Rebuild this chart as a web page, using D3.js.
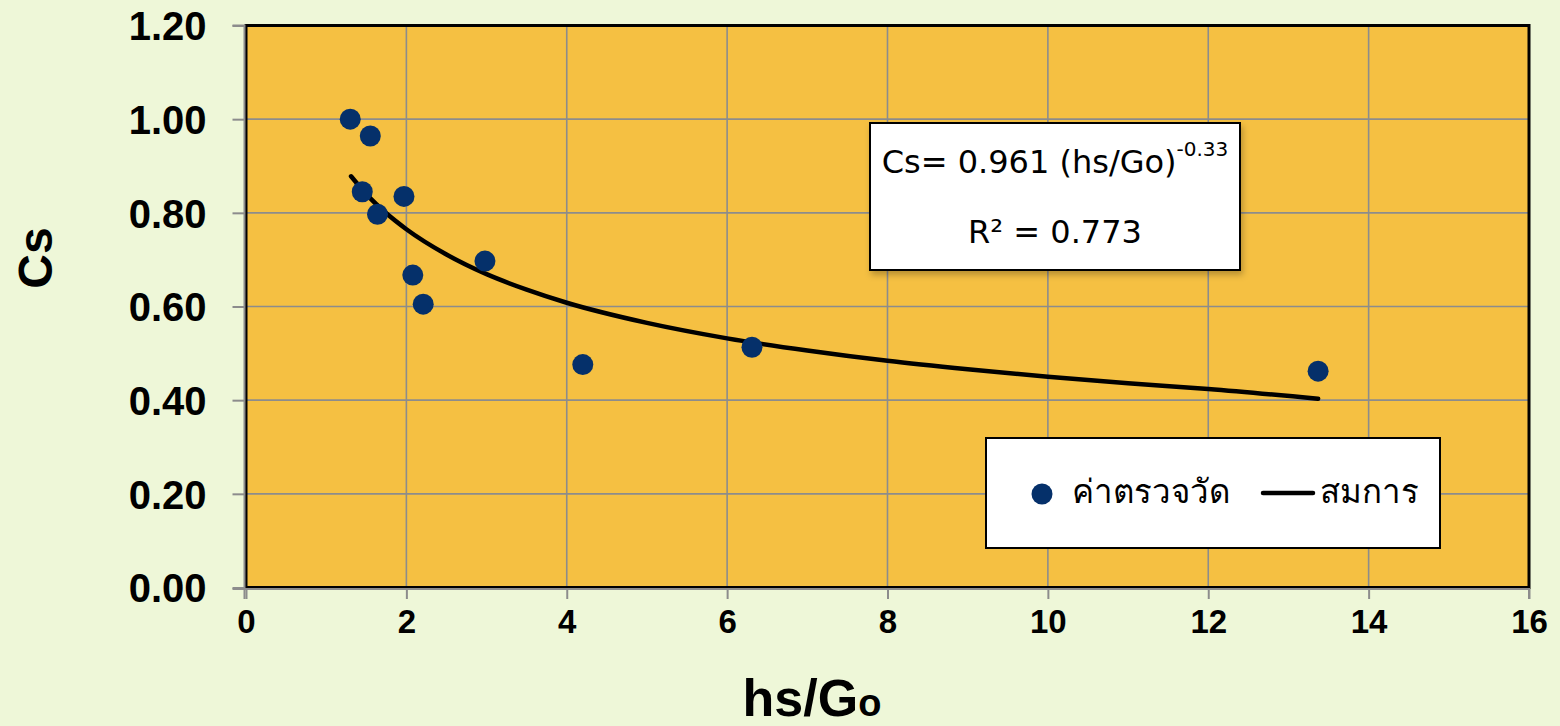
<!DOCTYPE html>
<html>
<head>
<meta charset="utf-8">
<script src="https://cdn.jsdelivr.net/npm/d3@7"></script>
<style>
  html, body { margin: 0; padding: 0; background: #EEF7D8; }
  svg { display: block; }
</style>
</head>
<body>
<svg id="chart" width="1560" height="726"></svg>
<script>
// Measured points (ค่าตรวจวัด)
const measuredX = [1.30, 1.55, 1.45, 1.64, 1.97, 2.08, 2.21, 2.98, 4.20, 6.31, 13.37];
const measuredY = [1.000, 0.964, 0.845, 0.797, 0.835, 0.667, 0.605, 0.697, 0.476, 0.513, 0.462];

// Fitted curve (สมการ)
const curveX = [1.31, 1.5, 1.75, 2.0, 2.5, 3.0, 3.5, 4.0, 5.0, 6.0, 7.0, 8.0, 9.0, 10.0, 11.0, 12.0, 13.37];
const curveY = [0.878, 0.840, 0.799, 0.765, 0.711, 0.669, 0.636, 0.608, 0.565, 0.532, 0.506, 0.484, 0.466, 0.450, 0.436, 0.424, 0.403];

const xTicks = [0, 2, 4, 6, 8, 10, 12, 14, 16];
const yTicks = [0, 0.2, 0.4, 0.6, 0.8, 1.0, 1.2];

const equationText = "Cs= 0.961 (hs/Go)";
const equationExp = "-0.33";
const r2Text = "R² = 0.773";
const legendLabels = ["ค่าตรวจวัด", "สมการ"];

const svg = d3.select("#chart");
const W = 1560, H = 726;
const pLeft = 246, pRight = 1529, pTop = 25.5, pBottom = 587.5;

const x = d3.scaleLinear().domain([0, 16]).range([pLeft, pRight]);
const y = d3.scaleLinear().domain([0, 1.2]).range([pBottom, pTop]);

svg.append("rect").attr("width", W).attr("height", H).attr("fill", "#EEF7D8");

const defs = svg.append("defs");
const f = defs.append("filter").attr("id", "shadow").attr("x", "-10%").attr("y", "-10%").attr("width", "130%").attr("height", "140%");
f.append("feDropShadow").attr("dx", 2).attr("dy", 4).attr("stdDeviation", 3).attr("flood-color", "#000").attr("flood-opacity", 0.25);

// plot area
svg.append("rect")
  .attr("x", pLeft).attr("y", pTop)
  .attr("width", pRight - pLeft).attr("height", pBottom - pTop)
  .attr("fill", "#F5C042");

// grid
const grid = svg.append("g").attr("stroke", "#8C8C8C").attr("stroke-width", 1.6);
xTicks.slice(1, -1).forEach(t => {
  grid.append("line").attr("x1", x(t)).attr("x2", x(t)).attr("y1", pTop).attr("y2", pBottom);
});
yTicks.slice(1, -1).forEach(t => {
  grid.append("line").attr("x1", pLeft).attr("x2", pRight).attr("y1", y(t)).attr("y2", y(t));
});

// plot border
svg.append("rect")
  .attr("x", pLeft).attr("y", pTop)
  .attr("width", pRight - pLeft).attr("height", pBottom - pTop)
  .attr("fill", "none").attr("stroke", "#000").attr("stroke-width", 3);

// axes
const yAxis = d3.axisLeft(y).tickValues(yTicks).tickSize(12).tickFormat(d3.format(".2f"));
const gy = svg.append("g").attr("transform", `translate(${pLeft - 1.5},0)`).call(yAxis);
gy.select(".domain").attr("stroke", "#8C8C8C").attr("stroke-width", 2).attr("d", `M-12,${pTop}H0V${pBottom + 1.5}H-12`);
gy.selectAll(".tick line").attr("stroke", "#8C8C8C").attr("stroke-width", 2);
gy.selectAll(".tick text")
  .attr("x", -38).attr("dy", "0.36em")
  .attr("font-family", "'Liberation Sans', Arial, sans-serif")
  .attr("font-weight", "bold").attr("font-size", 40).attr("fill", "#000");

const xAxis = d3.axisBottom(x).tickValues(xTicks).tickSize(10).tickFormat(d3.format("d"));
const gx = svg.append("g").attr("transform", `translate(0,${pBottom + 1.5})`).call(xAxis);
gx.select(".domain").attr("stroke", "#8C8C8C").attr("stroke-width", 2).attr("d", `M${pLeft - 1.5},10V0H${pRight}V10`);
gx.selectAll(".tick line").attr("stroke", "#8C8C8C").attr("stroke-width", 2);
gx.selectAll(".tick text")
  .attr("y", 32).attr("dy", "0.36em")
  .attr("font-family", "'Liberation Sans', Arial, sans-serif")
  .attr("font-weight", "bold").attr("font-size", 33).attr("fill", "#000");

// axis titles
svg.append("text")
  .attr("transform", `translate(52,258) rotate(-90)`)
  .attr("text-anchor", "middle")
  .attr("font-family", "'Liberation Sans', Arial, sans-serif")
  .attr("font-weight", "bold").attr("font-size", 48).attr("fill", "#000")
  .text("Cs");

const xt = svg.append("text")
  .attr("x", 812).attr("y", 716)
  .attr("text-anchor", "middle")
  .attr("font-family", "'Liberation Sans', Arial, sans-serif")
  .attr("font-weight", "bold").attr("font-size", 52).attr("fill", "#000");
xt.append("tspan").text("hs/G");
xt.append("tspan").attr("font-size", 38).text("o");

// fitted curve
const line = d3.line().x((d, i) => x(curveX[i])).y((d, i) => y(curveY[i])).curve(d3.curveMonotoneX);
svg.append("path")
  .datum(curveX)
  .attr("d", line)
  .attr("fill", "none").attr("stroke", "#000").attr("stroke-width", 4.5).attr("stroke-linecap", "round");

// points
svg.append("g").selectAll("circle")
  .data(measuredX)
  .join("circle")
  .attr("cx", d => x(d))
  .attr("cy", (d, i) => y(measuredY[i]))
  .attr("r", 10.5)
  .attr("fill", "#05306A");

// equation box
const eqFont = "Tahoma, 'DejaVu Sans', 'Noto Sans', sans-serif";
svg.append("rect")
  .attr("x", 870).attr("y", 123).attr("width", 370).attr("height", 147)
  .attr("fill", "#fff").attr("stroke", "#000").attr("stroke-width", 2)
  .attr("filter", "url(#shadow)");
const eq = svg.append("text")
  .attr("x", 1055).attr("y", 173)
  .attr("text-anchor", "middle")
  .attr("font-family", eqFont).attr("font-size", 32).attr("fill", "#000");
eq.append("tspan").text(equationText);
eq.append("tspan").attr("font-size", 20).attr("dy", -17).text(equationExp);
svg.append("text")
  .attr("x", 1055).attr("y", 243)
  .attr("text-anchor", "middle")
  .attr("font-family", eqFont).attr("font-size", 32).attr("fill", "#000")
  .text(r2Text);

// legend
svg.append("rect")
  .attr("x", 986).attr("y", 438).attr("width", 454).attr("height", 110)
  .attr("fill", "#fff").attr("stroke", "#000").attr("stroke-width", 2);
svg.append("circle").attr("cx", 1042).attr("cy", 494).attr("r", 10.5).attr("fill", "#05306A");
svg.append("text")
  .attr("x", 1072).attr("y", 503)
  .attr("font-family", eqFont).attr("font-size", 33).attr("fill", "#000")
  .text(legendLabels[0]);
svg.append("line")
  .attr("x1", 1263).attr("x2", 1313).attr("y1", 493).attr("y2", 493)
  .attr("stroke", "#000").attr("stroke-width", 4.5).attr("stroke-linecap", "round");
svg.append("text")
  .attr("x", 1320).attr("y", 503)
  .attr("font-family", eqFont).attr("font-size", 33).attr("fill", "#000")
  .text(legendLabels[1]);
</script>
</body>
</html>
